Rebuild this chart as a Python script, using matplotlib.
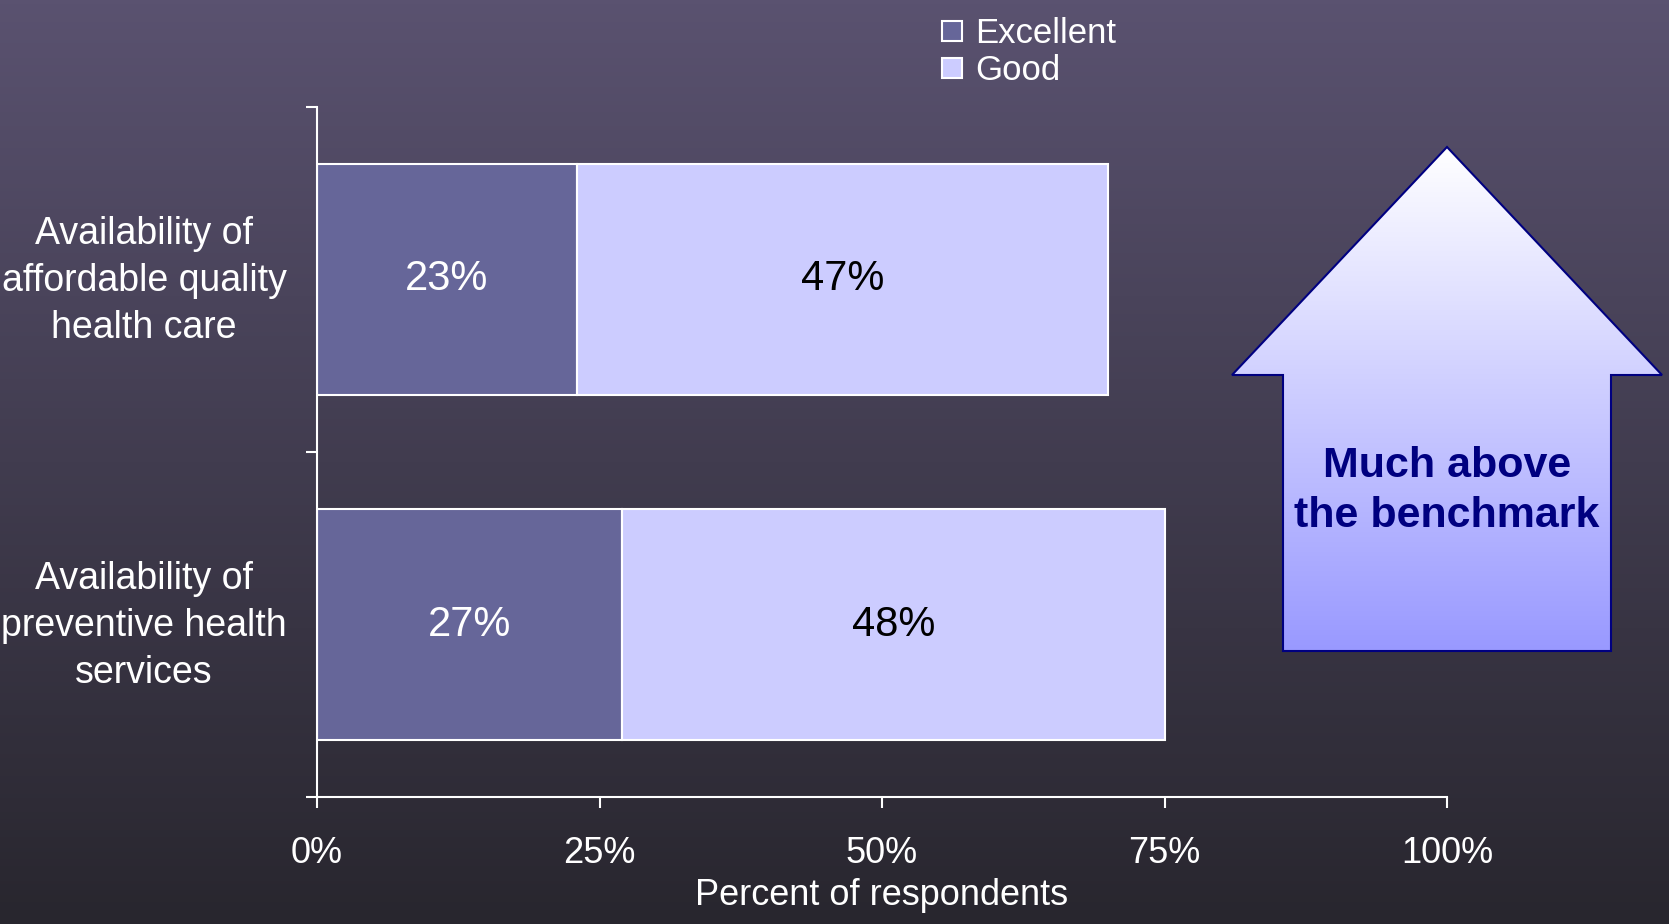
import numpy as np
import matplotlib.pyplot as plt
from matplotlib.patches import Polygon
from matplotlib.lines import Line2D

categories = ["Availability of\naffordable quality\nhealth care",
              "Availability of\npreventive health\nservices"]
excellent = [23, 27]
good = [47, 48]
x_ticks = [0, 25, 50, 75, 100]
x_tick_labels = ["0%", "25%", "50%", "75%", "100%"]

W, H = 1669, 924
regular = ["Liberation Sans", "DejaVu Sans"]

fig = plt.figure(figsize=(W / 100, H / 100), dpi=100)

# background gradient
bg = fig.add_axes([0, 0, 1, 1], zorder=0)
bg.axis("off")
top_c = np.array([90, 82, 112]) / 255
bot_c = np.array([40, 38, 46]) / 255
t = np.linspace(0, 1, 256)[:, None]
grad = top_c * (1 - t)[..., None] + bot_c * t[..., None]
grad = np.repeat(grad, 2, axis=1)
bg.imshow(grad, extent=[0, W, H, 0], aspect="auto")

# big arrow with white-to-lavender gradient
arrow_pts = [(1447, 147), (1662, 375), (1611, 375), (1611, 651),
             (1283, 651), (1283, 375), (1232, 375)]
arrow = Polygon(arrow_pts, closed=True, facecolor="none", edgecolor="#000080",
                linewidth=1.5, zorder=3)
bg.add_patch(arrow)
a_top = np.array([1.0, 1.0, 1.0])
a_bot = np.array([153, 153, 255]) / 255
ag = a_top * (1 - t)[..., None] + a_bot * t[..., None]
ag = np.repeat(ag, 2, axis=1)
im = bg.imshow(ag, extent=[1232, 1662, 651, 147], aspect="auto", zorder=2)
im.set_clip_path(arrow)
bg.text(1447, 491, "Much above\nthe benchmark", ha="center", va="center",
        color="#000080", fontsize=31, fontweight="bold", family=regular,
        linespacing=1.3, zorder=4)
bg.set_xlim(0, W)
bg.set_ylim(H, 0)

# main bar chart
ax = fig.add_axes([317 / W, 1 - 797 / H, (1447 - 317) / W, (797 - 107) / H], zorder=1)
ax.patch.set_alpha(0)
ypos = [1.5, 0.5]
ax.barh(ypos, excellent, height=0.667, color="#666699", edgecolor="white",
        linewidth=1.5, label="Excellent")
ax.barh(ypos, good, left=excellent, height=0.667, color="#CCCCFF",
        edgecolor="white", linewidth=1.5, label="Good")
for y, e, g in zip(ypos, excellent, good):
    ax.text(e / 2, y, f"{e}%", ha="center", va="center", color="white",
            fontsize=30, family=regular)
    ax.text(e + g / 2, y, f"{g}%", ha="center", va="center", color="black",
            fontsize=30, family=regular)

# category labels, centred lines, right edge near the axis
for y, cat in zip(ypos, categories):
    ax.annotate(cat, xy=(0, y), xycoords=("axes fraction", "data"),
                xytext=(-22, -1), textcoords="offset points",
                ha="right", va="center", multialignment="center",
                fontsize=27, color="white", family=regular, linespacing=1.4)

ax.set_xlim(0, 100)
ax.set_ylim(0, 2)
ax.set_xticks(x_ticks)
ax.set_xticklabels(x_tick_labels, fontsize=26, color="white", family=regular)
ax.set_yticks([0, 1, 2])
ax.set_yticklabels([])
ax.tick_params(axis="y", length=8, width=1.5, color="white")
ax.tick_params(axis="x", length=8, width=1.5, color="white", pad=20)
for s in ["top", "right"]:
    ax.spines[s].set_visible(False)
for s in ["left", "bottom"]:
    ax.spines[s].set_color("white")
    ax.spines[s].set_linewidth(1.5)
ax.set_xlabel("Percent of respondents", fontsize=26, color="white",
              family=regular, labelpad=5)

handles = [Line2D([], [], marker="s", linestyle="none", markersize=15,
                  markerfacecolor=c, markeredgecolor="white", markeredgewidth=1.5)
           for c in ["#666699", "#CCCCFF"]]
leg = fig.legend(handles, ["Excellent", "Good"], loc="upper left",
                 bbox_to_anchor=(921 / W, 1 - 0 / H), frameon=False,
                 prop={"family": regular, "size": 25}, labelcolor="white",
                 handlelength=0.8, handletextpad=0.25, labelspacing=0.1,
                 borderpad=0)

fig.savefig("out.png", dpi=100)
